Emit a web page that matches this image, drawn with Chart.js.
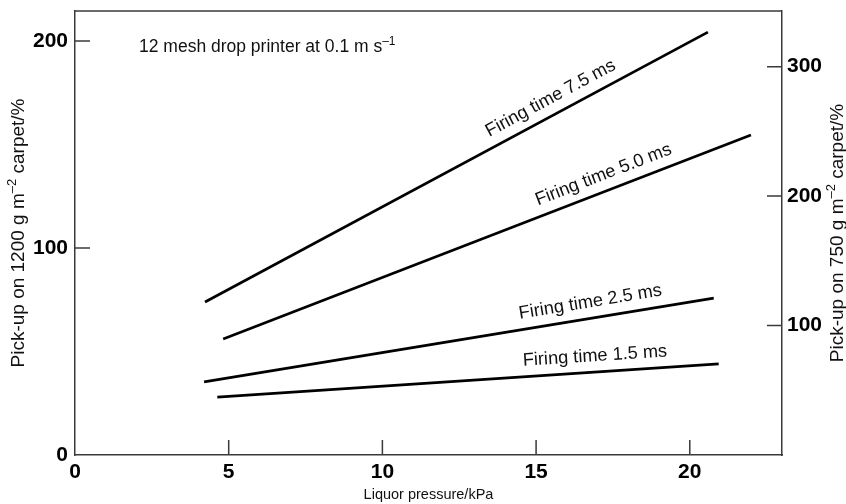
<!DOCTYPE html>
<html>
<head>
<meta charset="utf-8">
<script src="https://cdn.jsdelivr.net/npm/chart.js@4/dist/chart.umd.min.js"></script>
<style>
html,body{margin:0;padding:0;background:#fff;}
#wrap{width:846px;height:504px;}
</style>
</head>
<body>
<div id="wrap"><canvas id="c" width="846" height="504"></canvas></div>
<script>
// ---- data ----
const seriesNames = ['Firing time 7.5 ms', 'Firing time 5.0 ms', 'Firing time 2.5 ms', 'Firing time 1.5 ms'];
const pressureStart = [4.23, 4.82, 4.20, 4.63];
const pressureEnd   = [20.59, 21.99, 20.78, 20.94];
const pickupStart   = [73.9, 56.0, 35.3, 28.0];
const pickupEnd     = [204.3, 154.6, 75.8, 44.0];
const labelAtPressure = [15.72, 17.38, 16.85, 16.95];
const xTicks = [0, 5, 10, 15, 20];
const leftTicks = [0, 100, 200];
const rightTicks = [100, 200, 300];

const FONT = '"Liberation Sans", Arial, Helvetica, sans-serif';
const AXIS_COLOR = '#3a3a3a';

const datasets = seriesNames.map((name, i) => ({
  label: name,
  data: [{x: pressureStart[i], y: pickupStart[i]}, {x: pressureEnd[i], y: pickupEnd[i]}],
  borderColor: '#000',
  borderWidth: 2.7,
  pointRadius: 0,
  tension: 0,
  fill: false,
  yAxisID: 'y'
}));
datasets.push({label: '_r', data: [], yAxisID: 'y2', borderWidth: 0, pointRadius: 0});

function drawRich(ctx, parts, x, y, align, base) {
  const supSize = Math.round(base * 0.68);
  const widths = parts.map(p => { ctx.font = (p.sup ? supSize : base) + 'px ' + FONT; return ctx.measureText(p.t).width; });
  const total = widths.reduce((a, b) => a + b, 0);
  let cx = align === 'center' ? x - total / 2 : x;
  ctx.textAlign = 'left';
  ctx.textBaseline = 'alphabetic';
  parts.forEach((p, i) => {
    ctx.font = (p.sup ? supSize : base) + 'px ' + FONT;
    ctx.fillText(p.t, cx, p.sup ? y - base * 0.42 : y);
    cx += widths[i];
  });
}

const decor = {
  id: 'decor',
  afterDraw(chart) {
    const ctx = chart.ctx;
    const a = chart.chartArea;
    const xs = chart.scales.x, ys = chart.scales.y, y2 = chart.scales.y2;
    ctx.save();
    ctx.strokeStyle = AXIS_COLOR;
    ctx.lineWidth = 1.5;
    ctx.beginPath();
    ctx.moveTo(a.left, a.top); ctx.lineTo(a.right, a.top);
    ctx.stroke();
    const L = 15;
    ctx.beginPath();
    xTicks.forEach(v => { if (v === 0) return; const p = xs.getPixelForValue(v); ctx.moveTo(p, a.bottom); ctx.lineTo(p, a.bottom - L); });
    leftTicks.forEach(v => { if (v === 0) return; const p = ys.getPixelForValue(v); ctx.moveTo(a.left, p); ctx.lineTo(a.left + L, p); });
    rightTicks.forEach(v => { const p = y2.getPixelForValue(v); ctx.moveTo(a.right, p); ctx.lineTo(a.right - L, p); });
    ctx.stroke();

    ctx.fillStyle = '#111';
    drawRich(ctx, [{t: '12 mesh drop printer at 0.1 m s'}, {t: '\u20131', sup: true}], a.left + 64, 52, 'left', 17.5);

    const midY = (a.top + a.bottom) / 2;
    ctx.save();
    ctx.translate(18, midY);
    ctx.rotate(-Math.PI / 2);
    drawRich(ctx, [{t: 'Pick-up on 1200 g m'}, {t: '\u20132', sup: true}, {t: ' carpet/%'}], 0, 6, 'center', 19);
    ctx.restore();
    ctx.save();
    ctx.translate(837, midY);
    ctx.rotate(-Math.PI / 2);
    drawRich(ctx, [{t: 'Pick-up on 750 g m'}, {t: '\u20132', sup: true}, {t: ' carpet/%'}], 0, 6, 'center', 19);
    ctx.restore();
    ctx.font = '14.5px ' + FONT;
    ctx.textAlign = 'center';
    ctx.textBaseline = 'alphabetic';
    ctx.fillText('Liquor pressure/kPa', (a.left + a.right) / 2, 499);

    ctx.font = '18.2px ' + FONT;
    seriesNames.forEach((name, i) => {
      const x0 = xs.getPixelForValue(pressureStart[i]), y0 = ys.getPixelForValue(pickupStart[i]);
      const x1 = xs.getPixelForValue(pressureEnd[i]), y1 = ys.getPixelForValue(pickupEnd[i]);
      const ang = Math.atan2(y1 - y0, x1 - x0);
      const t = (labelAtPressure[i] - pressureStart[i]) / (pressureEnd[i] - pressureStart[i]);
      const px = x0 + t * (x1 - x0), py = y0 + t * (y1 - y0);
      ctx.save();
      ctx.translate(px, py);
      ctx.rotate(ang);
      ctx.textAlign = 'center';
      ctx.textBaseline = 'alphabetic';
      ctx.fillText(name, 0, -11);
      ctx.restore();
    });
    ctx.restore();
  }
};

const tickFont = {family: FONT, size: 21, weight: 'bold'};
const noGrid = {display: false, drawTicks: false, drawOnChartArea: false};
function fixV(w) { return s => { s.width = w; s.paddingTop = 0; s.paddingBottom = 0; }; }

new Chart(document.getElementById('c'), {
  type: 'line',
  data: {datasets},
  options: {
    responsive: false,
    animation: false,
    layout: {padding: {top: 11, left: 0, right: 0, bottom: 0}},
    plugins: {legend: {display: false}, tooltip: {enabled: false}},
    scales: {
      x: {
        type: 'linear', min: 0, max: 23,
        grid: noGrid,
        border: {display: true, color: AXIS_COLOR, width: 1.5},
        ticks: {stepSize: 5, includeBounds: false, color: '#000', font: tickFont, padding: 5, maxRotation: 0},
        afterFit(s) { s.height = 49; s.paddingLeft = 0; s.paddingRight = 0; }
      },
      y: {
        type: 'linear', position: 'left', min: 0, max: 214.5,
        grid: noGrid,
        border: {display: true, color: AXIS_COLOR, width: 1.5},
        ticks: {stepSize: 100, includeBounds: false, color: '#000', font: tickFont, padding: 7},
        afterFit: fixV(75)
      },
      y2: {
        type: 'linear', position: 'right', min: 0, max: 343,
        grid: noGrid,
        border: {display: true, color: AXIS_COLOR, width: 1.5},
        ticks: {stepSize: 100, includeBounds: false, color: '#000', font: tickFont, padding: 5,
          callback: v => (v === 0 ? '' : v)},
        afterFit: fixV(64)
      }
    }
  },
  plugins: [decor]
});
</script>
</body>
</html>
